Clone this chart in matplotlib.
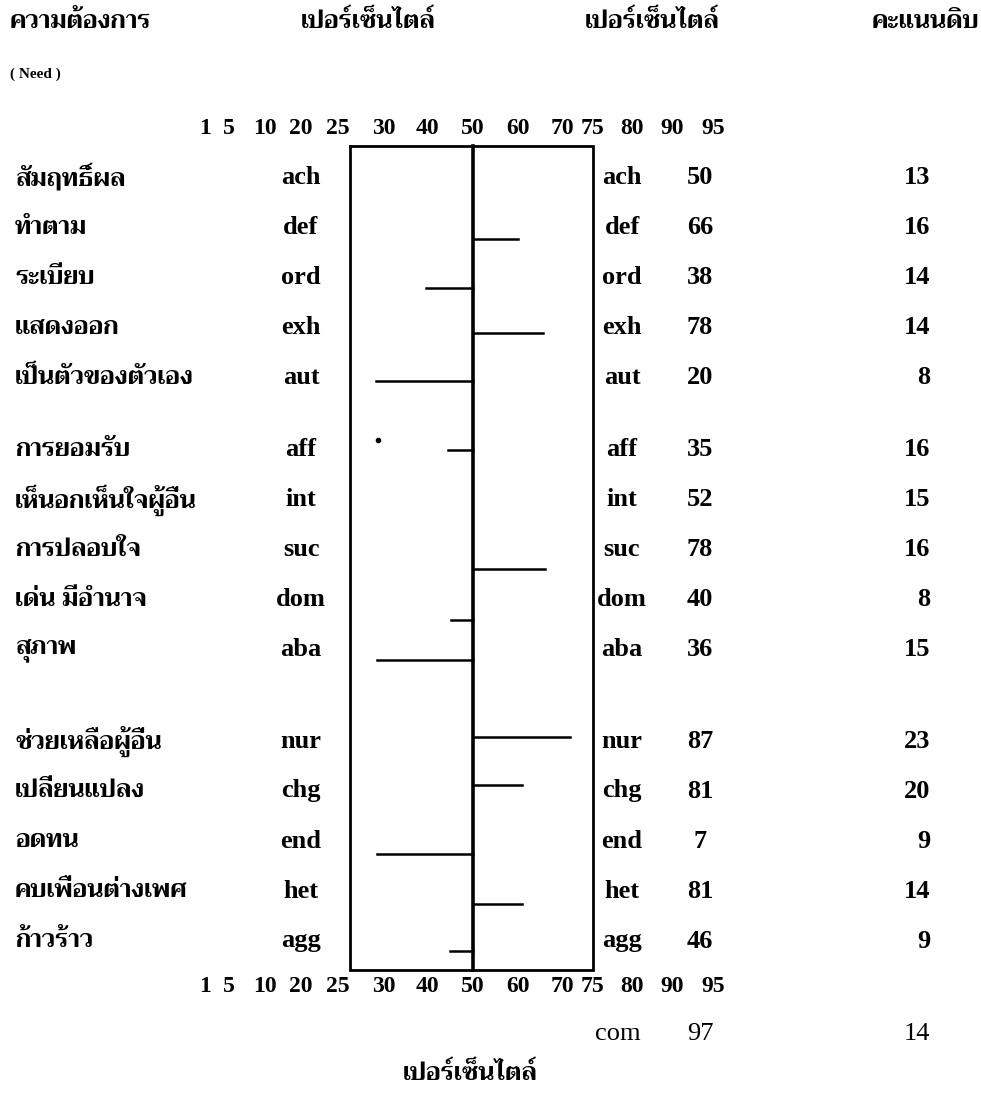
import numpy as np
import matplotlib
matplotlib.use("Agg")
import matplotlib.pyplot as plt
from matplotlib import font_manager, transforms
from matplotlib.ft2font import FT2Font

# needs (Thai), codes, percentile shown, raw score
need_th = ["สัมฤทธิ์ผล", "ทำตาม", "ระเบียบ", "แสดงออก", "เป็นตัวของตัวเอง",
           "การยอมรับ", "เห็นอกเห็นใจผู้อื่น", "การปลอบใจ", "เด่น มีอำนาจ", "สุภาพ",
           "ช่วยเหลือผู้อื่น", "เปลี่ยนแปลง", "อดทน", "คบเพื่อนต่างเพศ", "ก้าวร้าว"]
codes = ["ach", "def", "ord", "exh", "aut", "aff", "int", "suc", "dom", "aba",
         "nur", "chg", "end", "het", "agg"]
pct_values = [50, 66, 38, 78, 20, 35, 52, 78, 40, 36, 87, 81, 7, 81, 46]
raw_scores = [13, 16, 14, 14, 8, 16, 15, 16, 8, 15, 23, 20, 9, 14, 9]
# where each drawn line ends on the percentile scale
bar_ends = [50, 60, 39.8, 65.7, 28.8, 44.6, 50, 66.1, 45.2, 29, 71.3, 61, 29, 61, 45]
stray_dot = 29.1
com_pct, com_raw = 97, 14

scale_ticks = [1, 5, 10, 20, 25, 30, 40, 50, 60, 70, 75, 80, 90, 95]
# uneven spacing of the printed scale (pixel position of each tick)
tick_px = [205, 229, 265, 301, 350, 384, 427, 473, 518, 562, 593, 632, 672, 713]


def fwd(p):
    return np.interp(p, scale_ticks, tick_px)


def inv(x):
    return np.interp(x, tick_px, scale_ticks)


def thai_fonts():
    found = []
    for f in font_manager.fontManager.ttflist:
        try:
            if 0x0E01 in FT2Font(f.fname).get_charmap():
                found.append((f.weight if isinstance(f.weight, int) else 400, f.name))
        except Exception:
            pass
    found.sort(reverse=True)
    names = []
    for w, n in found:
        if n not in names:
            names.append(n)
    return names


TH = thai_fonts()[:1] + ["DejaVu Sans"]
LAT = "Liberation Serif"

W, H = 981, 1103
fig = plt.figure(figsize=(W / 100, H / 100), dpi=100)
left = tick_px[0] / W
right = tick_px[-1] / W
ax = fig.add_axes([left, 0, right - left, 1])
ax.set_xscale("function", functions=(fwd, inv))
ax.set_xlim(1, 95)
ax.set_ylim(H, 0)
ax.axis("off")

# row layout: three groups of five
group_start = [178, 450, 741]
row_y = np.array([group_start[i // 5] + 50 * (i % 5) for i in range(len(codes))])
# the hand-drawn lines sit a little off their rows
bar_dy = [0, 11, 10, 5, 3, 0, 0, 19, 20, 10, -4, -6, 13, 13, 10]

box_top, box_bot = 146, 970
ax.plot([25, 75, 75, 25, 25], [box_top, box_top, box_bot, box_bot, box_top],
        color="black", lw=2.0, solid_joinstyle="miter")
ax.plot([50, 50], [box_top, box_bot], color="black", lw=2.6)

for yy, dy, end in zip(row_y, bar_dy, bar_ends):
    if end != 50:
        ax.plot([50, end], [yy + dy, yy + dy], color="black", lw=1.8)
ax.plot([stray_dot], [440], marker="o", ms=3, color="black")

tr = transforms.blended_transform_factory(fig.transFigure, ax.transData)
nudge = transforms.ScaledTranslation(-12 / 100, 0, fig.dpi_scale_trans)
for p in scale_ticks:
    for ty in (128, 986):
        t = ax.transData + nudge if p == 25 else ax.transData
        ax.text(p, ty, str(p), ha="center", va="center", family=LAT,
                fontsize=17, fontweight="bold", transform=t)

for yy, th, c, pv, rs in zip(row_y, need_th, codes, pct_values, raw_scores):
    ax.text(15 / W, yy, th, transform=tr, ha="left", va="center",
            family=TH, fontsize=18, fontweight="bold")
    ax.text(301 / W, yy, c, transform=tr, ha="center", va="center",
            family=LAT, fontsize=19, fontweight="bold")
    ax.text(622 / W, yy, c, transform=tr, ha="center", va="center",
            family=LAT, fontsize=19, fontweight="bold")
    ax.text(700 / W, yy, str(pv), transform=tr, ha="center", va="center",
            family=LAT, fontsize=19, fontweight="bold")
    ax.text(930 / W, yy, str(rs), transform=tr, ha="right", va="center",
            family=LAT, fontsize=19, fontweight="bold")

ax.text(618 / W, 1034, "com", transform=tr, ha="center", va="center",
        family=LAT, fontsize=19)
ax.text(700 / W, 1034, str(com_pct), transform=tr, ha="center", va="center",
        family=LAT, fontsize=19)
ax.text(930 / W, 1034, str(com_raw), transform=tr, ha="right", va="center",
        family=LAT, fontsize=19)

# header row
ax.text(10 / W, 22, "ความต้องการ", transform=tr, ha="left", va="center",
        family=TH, fontsize=18, fontweight="bold")
ax.text(368 / W, 22, "เปอร์เซ็นไตล์", transform=tr, ha="center", va="center",
        family=TH, fontsize=18, fontweight="bold")
ax.text(652 / W, 22, "เปอร์เซ็นไตล์", transform=tr, ha="center", va="center",
        family=TH, fontsize=18, fontweight="bold")
ax.text(925 / W, 22, "คะแนนดิบ", transform=tr, ha="center", va="center",
        family=TH, fontsize=18, fontweight="bold")
ax.text(10 / W, 74, "( Need )", transform=tr, ha="left", va="center",
        family=LAT, fontsize=11, fontweight="bold")
ax.text(470 / W, 1074, "เปอร์เซ็นไตล์", transform=tr, ha="center", va="center",
        family=TH, fontsize=18, fontweight="bold")

fig.savefig("out.png", dpi=100, facecolor="white")
